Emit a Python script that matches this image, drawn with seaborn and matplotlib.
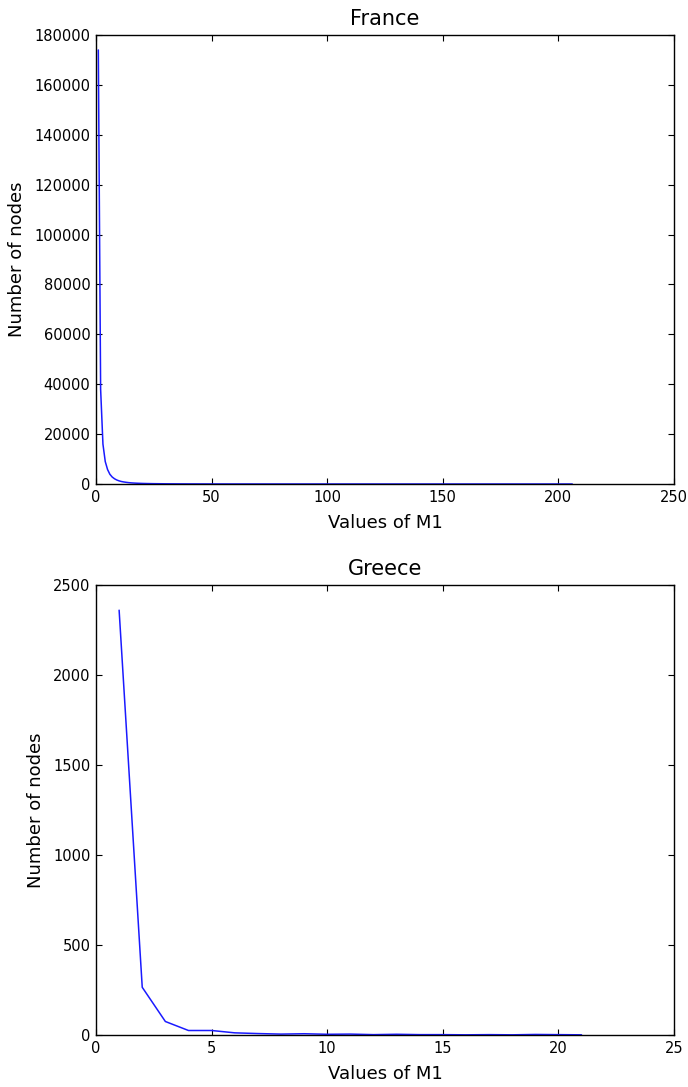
import matplotlib
matplotlib.use("Agg")
import matplotlib.pyplot as plt
import seaborn as sns
import pandas as pd

sns.set_theme(style="ticks")
plt.rcParams['font.family'] = ['DejaVu Sans']
plt.rcParams['text.color'] = 'black'
plt.rcParams['axes.labelcolor'] = 'black'
plt.rcParams['xtick.color'] = 'black'
plt.rcParams['ytick.color'] = 'black'

# France: values of M1 and number of nodes
france_m1 = [1, 2, 3, 4, 5, 6, 7, 8, 9, 10, 11, 12, 13, 14, 15, 16, 18, 20, 22, 25,
             30, 35, 40, 50, 60, 80, 100, 120, 150, 180, 206]
france_nodes = [174000, 38000, 16000, 9000, 5800, 3900, 2800, 2100, 1600, 1250, 1000, 820,
                680, 560, 470, 400, 300, 230, 180, 130, 80, 55, 40, 22, 14, 8, 5, 3, 2, 1, 1]

# Greece: values of M1 and number of nodes
greece_m1 = [1, 2, 3, 4, 5, 6, 7, 8, 9, 10, 11, 12, 13, 14, 15, 16, 17, 18, 19, 20, 21]
greece_nodes = [2360, 265, 75, 25, 25, 12, 8, 5, 7, 4, 5, 2, 4, 2, 2, 1, 2, 1, 3, 2, 1]

france_df = pd.DataFrame({"m1": france_m1, "nodes": france_nodes})
greece_df = pd.DataFrame({"m1": greece_m1, "nodes": greece_nodes})

fig = plt.figure(figsize=(6.88, 10.87), dpi=100)
ax1 = fig.add_axes([96/688, 1 - 484/1087, 578/688, 449/1087])
ax2 = fig.add_axes([96/688, 1 - 1035/1087, 578/688, 450/1087])

for ax, df, title, xlim, ylim in [
    (ax1, france_df, "France", (0, 250), (0, 180000)),
    (ax2, greece_df, "Greece", (0, 25), (0, 2500)),
]:
    sns.lineplot(data=df, x="m1", y="nodes", ax=ax, color="#1a1aff", linewidth=1.1)
    ax.set_xlim(*xlim)
    ax.set_ylim(*ylim)
    ax.set_title(title, fontsize=15, color="black", pad=7)
    ax.set_xlabel("Values of M1", fontsize=13, labelpad=7)
    ax.set_ylabel("Number of nodes", fontsize=13, labelpad=6)
    ax.tick_params(direction="in", top=True, right=True, labelsize=10.5, length=4,
                   width=0.8, color="black", pad=4)
    for s in ax.spines.values():
        s.set_visible(True)
        s.set_color("black")
        s.set_linewidth(1.0)

ax1.set_yticks(range(0, 180001, 20000))
ax2.set_yticks(range(0, 2501, 500))

fig.savefig("out.png", dpi=100)
